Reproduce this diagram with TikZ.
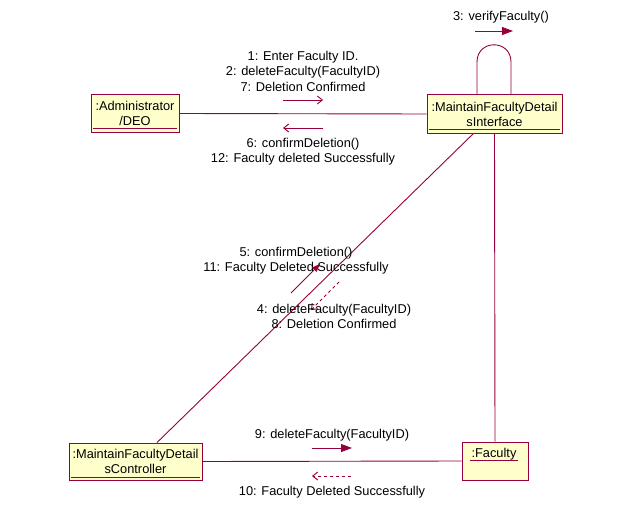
\documentclass[tikz,border=0pt]{standalone}
\usepackage{fontspec}
\setmainfont{Liberation Sans}
\usetikzlibrary{arrows.meta}
\definecolor{umlline}{RGB}{150,0,60}
\definecolor{umlfill}{RGB}{255,255,204}
\tikzset{
  objbox/.style={draw=umlline, fill=umlfill, line width=0.9pt, inner sep=0pt,
    align=center, font=\fontsize{12.8}{15}\selectfont},
  link/.style={draw=umlline, line width=0.9pt},
  uline/.style={draw=umlline, line width=0.9pt},
  callmsg/.style={draw=umlline, line width=0.9pt, -{Triangle[length=11pt,width=8pt]}},
  simplemsg/.style={draw=umlline, line width=0.9pt, -{Straight Barb[length=5pt,width=8pt]}},
  returnmsg/.style={draw=umlline, line width=0.9pt, dashed, dash pattern=on 3pt off 3pt,
    -{Straight Barb[length=5pt,width=8pt]}},
  lbl/.style={align=center, inner sep=0pt, font=\fontsize{12.8}{15.5}\selectfont}
}
\begin{document}
\begin{tikzpicture}[x=1pt, y=-1pt]
\useasboundingbox (0,0) rectangle (626,527);

% objects
\node[objbox, minimum width=88pt, minimum height=38pt] (adm) at (135,113.5)
  {:Administrator\\/DEO};
\node[objbox, minimum width=135pt, minimum height=39pt] (int) at (494.5,114)
  {:MaintainFacultyDetail\\sInterface};
\node[objbox, minimum width=133pt, minimum height=37pt] (ctl) at (135.5,461.5)
  {:MaintainFacultyDetail\\sController};
\node[objbox, minimum width=66pt, minimum height=38pt] (fac) at (495,461) {};
\node[lbl] (factxt) at (494,454) {:Faculty};

% underlines of object names
\draw[uline] ([xshift=2pt,yshift=5pt]adm.south west) -- ([xshift=-2pt,yshift=5pt]adm.south east);
\draw[uline] ([xshift=2pt,yshift=5pt]int.south west) -- ([xshift=-2pt,yshift=5pt]int.south east);
\draw[uline] ([xshift=2pt,yshift=3pt]ctl.south west) -- ([xshift=-2pt,yshift=3pt]ctl.south east);
\draw[uline] ([xshift=8pt,yshift=-19pt]fac.north west) -- ([xshift=-10pt,yshift=-19pt]fac.north east);

% links
\draw[link] (adm.east) -- (int.west);
\draw[link] ([xshift=-21.5pt]int.south) -- ([xshift=21.5pt]ctl.north);
\draw[link] (int.south) -- (fac.north);
\draw[link] (ctl.east) -- (fac.west);

% self link on the interface
\coordinate (loopL) at ([xshift=-17.5pt,yshift=32pt]int.north);
\coordinate (loopR) at ([xshift=16.5pt,yshift=32pt]int.north);
\draw[link] ([xshift=-17.5pt]int.north) -- (loopL)
  .. controls ([yshift=23pt]loopL) and ([yshift=23pt]loopR) .. (loopR)
  -- ([xshift=16.5pt]int.north);

% messages between administrator and interface
\node[lbl] (m127) at (303,71) {1: Enter Faculty ID.\\2: deleteFaculty(FacultyID)\\7: Deletion Confirmed};
\coordinate (a1s) at (283,100); \coordinate (a1e) at (323,100);
\draw[simplemsg] (a1s) -- (a1e);
\coordinate (a2s) at (323,128); \coordinate (a2e) at (283,128);
\draw[simplemsg] (a2s) -- (a2e);
\node[lbl] (m612) at (303,151.5) {6: confirmDeletion()\\12: Faculty deleted Successfully};

% self message
\node[lbl] (m3) at (501,17) {3: verifyFaculty()};
\coordinate (a3s) at (475,31); \coordinate (a3e) at (513,31);
\draw[callmsg] (a3s) -- (a3e);

% messages between interface and controller
\node[lbl] (m511) at (296,260.5) {5: confirmDeletion()\\11: Faculty Deleted Successfully};
\coordinate (a5s) at (291,293); \coordinate (a5e) at (320,264);
\draw[callmsg, -{Triangle[length=8pt,width=6pt]}] (a5s) -- (a5e);
\coordinate (a4s) at (339,282); \coordinate (a4e) at (311,310);
\draw[returnmsg] (a4s) -- (a4e);
\node[lbl] (m48) at (334,316.5) {4: deleteFaculty(FacultyID)\\8: Deletion Confirmed};

% messages between controller and faculty
\node[lbl] (m9) at (332,435) {9: deleteFaculty(FacultyID)};
\coordinate (a9s) at (312,448); \coordinate (a9e) at (352,448);
\draw[callmsg] (a9s) -- (a9e);
\coordinate (a10s) at (351,476); \coordinate (a10e) at (312,476);
\draw[returnmsg] (a10s) -- (a10e);
\node[lbl] (m10) at (332,492) {10: Faculty Deleted Successfully};
\end{tikzpicture}
\end{document}
